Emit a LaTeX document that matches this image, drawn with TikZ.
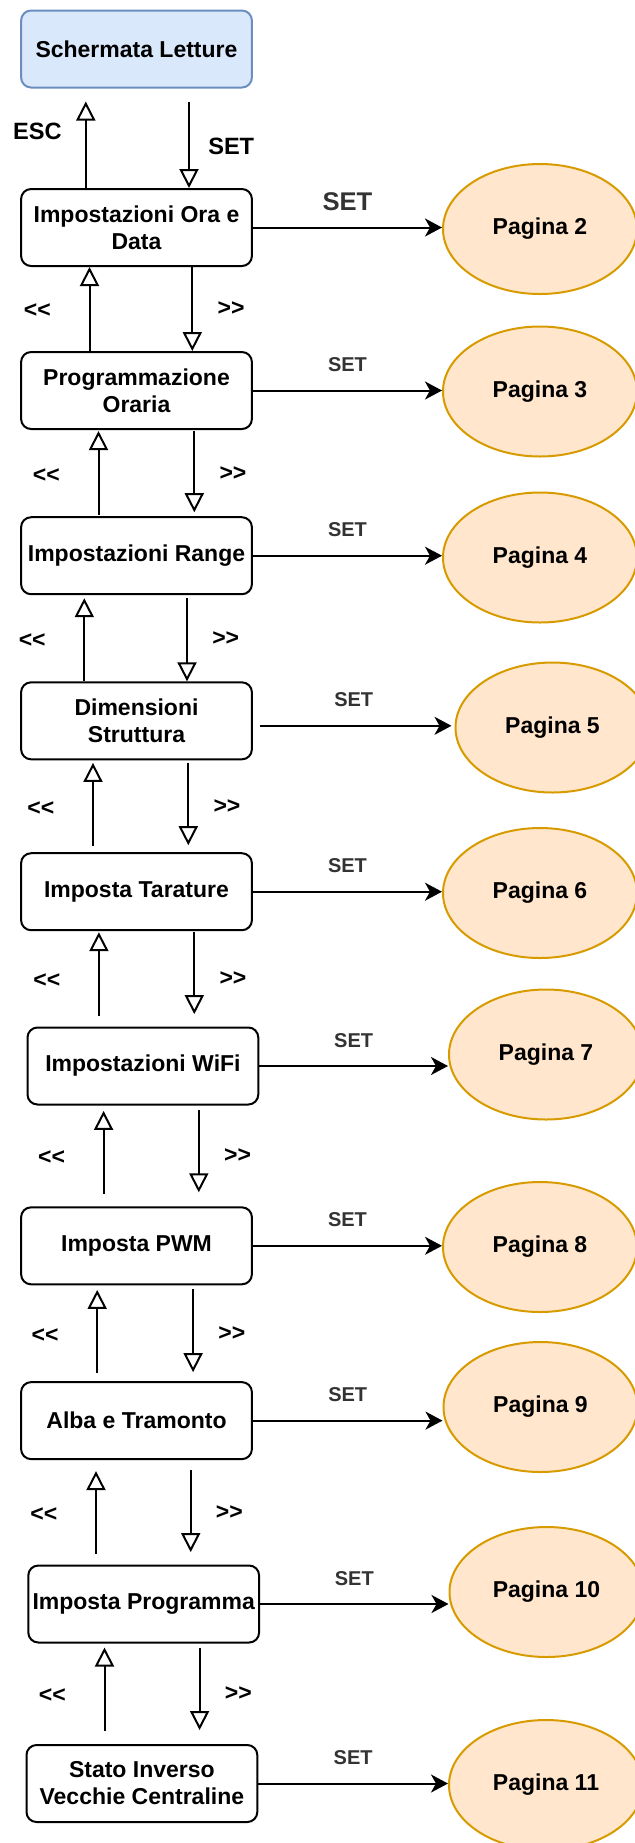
\documentclass[tikz,border=0pt]{standalone}
\usepackage{fontspec}
\setmainfont{Liberation Sans}
\usepackage{tikz}
\usetikzlibrary{positioning,shapes.geometric,arrows.meta}
\definecolor{lettureblue}{HTML}{DAE8FC}
\definecolor{letturedraw}{HTML}{6C8EBF}
\definecolor{paginafill}{HTML}{FFE6CC}
\definecolor{paginadraw}{HTML}{D79B00}
\definecolor{setgray}{HTML}{333333}

\begin{document}
\begin{tikzpicture}[x=0.5pt, y=-0.5pt, font=\bfseries\fontsize{11.5}{13.5}\selectfont,
	menu/.style={draw, line width=1pt, rectangle, rounded corners=5pt, minimum width=115.4pt, minimum height=38.5pt, align=center, inner sep=1pt},
	pagina/.style={draw=paginadraw, fill=paginafill, line width=1pt, ellipse, minimum width=97pt, minimum height=65pt, inner sep=0pt},
	nav/.style={line width=1pt, -{Triangle[open, length=9.5pt, width=9.5pt]}},
	setarrow/.style={line width=1pt, -{Stealth[length=8.5pt, width=9pt, inset=2.5pt]}},
	setlabel/.style={above=5.5pt, pos=0.5, text=setgray, font=\bfseries\fontsize{10}{12}\selectfont},
	prevlabel/.style={left=15.5pt, pos=0.5, yshift=-1pt},
	nextlabel/.style={right=8.8pt, pos=0.5}]
					\useasboundingbox (0,0) rectangle (635,1843);
					\clip (0,0) rectangle (635,1843);
					\node[menu, fill=lettureblue, draw=letturedraw] (letture) at (136.5,49) {Schermata Letture};
					\node[menu] (oradata) at (136.5,227.5) {Impostazioni Ora e \\ Data};
					\node[menu] (oraria) at (136.5,390.5) {Programmazione \\ Oraria};
					\node[menu] (range) at (136.5,555.7) {Impostazioni Range};
					\node[menu] (struttura) at (136.5,720.8) {Dimensioni \\ Struttura};
					\node[menu] (tarature) at (136.5,891.7) {Imposta Tarature};
					\node[menu] (wifi) at (142.9,1066) {Impostazioni WiFi};
					\node[menu] (pwm) at (136.5,1245.8) {Imposta PWM};
					\node[menu] (alba) at (136.5,1420.6) {Alba e Tramonto};
					\node[menu] (programma) at (143.7,1604) {Imposta Programma};
					\node[menu] (inverso) at (141.9,1783.5) {Stato Inverso \\ Vecchie Centraline};

					\node[pagina] (p2) at (540,229) {Pagina 2};
					\node[pagina] (p3) at (540,391.5) {Pagina 3};
					\node[pagina] (p4) at (540,557.5) {Pagina 4};
					\node[pagina] (p5) at (552.5,727.5) {Pagina 5};
					\node[pagina] (p6) at (540,893) {Pagina 6};
					\node[pagina] (p7) at (546,1054.5) {Pagina 7};
					\node[pagina] (p8) at (540,1247) {Pagina 8};
					\node[pagina] (p9) at (540.5,1407) {Pagina 9};
					\node[pagina] (p10) at (546.5,1592) {Pagina 10};
					\node[pagina] (p11) at (546,1785) {Pagina 11};

					\draw[setarrow] (oradata.east) -- (oradata.east -| p2.west) node[setlabel, above=4.3pt, font=\bfseries\fontsize{12.8}{14}\selectfont] (set2) {SET};
					\draw[setarrow] (oraria.east) -- (oraria.east -| p3.west) node[setlabel] (set3) {SET};
					\draw[setarrow] (range.east) -- (range.east -| p4.west) node[setlabel] (set4) {SET};
					\draw[setarrow, shorten <=3.5pt, shorten >=1.5pt] ([yshift=-2.5pt]struttura.east) -- ([yshift=-2.5pt]struttura.east -| p5.west) node[setlabel] (set5) {SET};
					\draw[setarrow] (tarature.east) -- (tarature.east -| p6.west) node[setlabel] (set6) {SET};
					\draw[setarrow] (wifi.east) -- (wifi.east -| p7.west) node[setlabel] (set7) {SET};
					\draw[setarrow] (pwm.east) -- (pwm.east -| p8.west) node[setlabel] (set8) {SET};
					\draw[setarrow] (alba.east) -- (alba.east -| p9.west) node[setlabel] (set9) {SET};
					\draw[setarrow] (programma.east) -- (programma.east -| p10.west) node[setlabel] (set10) {SET};
					\draw[setarrow] (inverso.east) -- (inverso.east -| p11.west) node[setlabel] (set11) {SET};

					\draw[nav, shorten >=6.5pt] ([xshift=-25.35pt]oradata.north) -- ([xshift=-25.35pt]oradata.north |- letture.south) node[pos=0.57, left=8.2pt, font=\bfseries\fontsize{11.8}{13}\selectfont] (esc) {ESC};
					\draw[nav, shorten <=6.8pt] ([xshift=26.25pt]letture.south) -- ([xshift=26.25pt]letture.south |- oradata.north) node[pos=0.58, right=5.8pt, font=\bfseries\fontsize{11.8}{13}\selectfont] (set1) {SET};

					\draw[nav] ([xshift=-23.5pt]oraria.north) -- ([xshift=-23.5pt]oraria.north |- oradata.south) node[prevlabel] (l1) {<{}<};
					\draw[nav] ([xshift=27.9pt]oradata.south) -- ([xshift=27.9pt]oradata.south |- oraria.north) node[nextlabel] (r1) {>{}>};

					\draw[nav, shorten <=0.7pt, shorten >=0.5pt] ([xshift=-19pt]range.north) -- ([xshift=-19pt]range.north |- oraria.south) node[prevlabel] (l2) {<{}<};
					\draw[nav, shorten <=0.5pt, shorten >=2pt] ([xshift=28.9pt]oraria.south) -- ([xshift=28.9pt]oraria.south |- range.north) node[nextlabel] (r2) {>{}>};

					\draw[nav, shorten >=1.5pt] ([xshift=-26.1pt]struttura.north) -- ([xshift=-26.1pt]struttura.north |- range.south) node[prevlabel] (l3) {<{}<};
					\draw[nav, shorten <=1.5pt] ([xshift=25.25pt]range.south) -- ([xshift=25.25pt]range.south |- struttura.north) node[nextlabel] (r3) {>{}>};

					\draw[nav, shorten <=3pt, shorten >=1.3pt] ([xshift=-21.75pt]tarature.north) -- ([xshift=-21.75pt]tarature.north |- struttura.south) node[prevlabel] (l4) {<{}<};
					\draw[nav, shorten <=1.2pt, shorten >=3.5pt] ([xshift=25.9pt]struttura.south) -- ([xshift=25.9pt]struttura.south |- tarature.north) node[nextlabel] (r4) {>{}>};

					\draw[nav, shorten <=5.4pt, shorten >=0.5pt] ([xshift=-22pt]wifi.north) -- ([xshift=-22pt]wifi.north |- tarature.south) node[prevlabel] (l5) {<{}<};
					\draw[nav, shorten <=0.5pt, shorten >=6.2pt] ([xshift=28.9pt]tarature.south) -- ([xshift=28.9pt]tarature.south |- wifi.north) node[nextlabel] (r5) {>{}>};

					\draw[nav, shorten <=6.2pt, shorten >=2.7pt] ([xshift=-16.45pt]pwm.north) -- ([xshift=-16.45pt]pwm.north |- wifi.south) node[prevlabel] (l6) {<{}<};
					\draw[nav, shorten <=2.4pt, shorten >=7pt] ([xshift=27.95pt]wifi.south) -- ([xshift=27.95pt]wifi.south |- pwm.north) node[nextlabel] (r6) {>{}>};

					\draw[nav, shorten <=4pt, shorten >=2.3pt] ([xshift=-19.65pt]alba.north) -- ([xshift=-19.65pt]alba.north |- pwm.south) node[prevlabel] (l7) {<{}<};
					\draw[nav, shorten <=2pt, shorten >=4.5pt] ([xshift=28.3pt]pwm.south) -- ([xshift=28.3pt]pwm.south |- alba.north) node[nextlabel] (r7) {>{}>};

					\draw[nav, shorten <=5.4pt, shorten >=5.5pt] ([xshift=-23.85pt]programma.north) -- ([xshift=-23.85pt]programma.north |- alba.south) node[prevlabel] (l8) {<{}<};
					\draw[nav, shorten <=5pt, shorten >=6.2pt] ([xshift=27.1pt]alba.south) -- ([xshift=27.1pt]alba.south |- programma.north) node[nextlabel] (r8) {>{}>};

					\draw[nav, shorten <=6.5pt, shorten >=2pt] ([xshift=-18.7pt]inverso.north) -- ([xshift=-18.7pt]inverso.north |- programma.south) node[prevlabel] (l9) {<{}<};
					\draw[nav, shorten <=2pt, shorten >=7pt] ([xshift=27.95pt]programma.south) -- ([xshift=27.95pt]programma.south |- inverso.north) node[nextlabel] (r9) {>{}>};
				\end{tikzpicture}
\end{document}
